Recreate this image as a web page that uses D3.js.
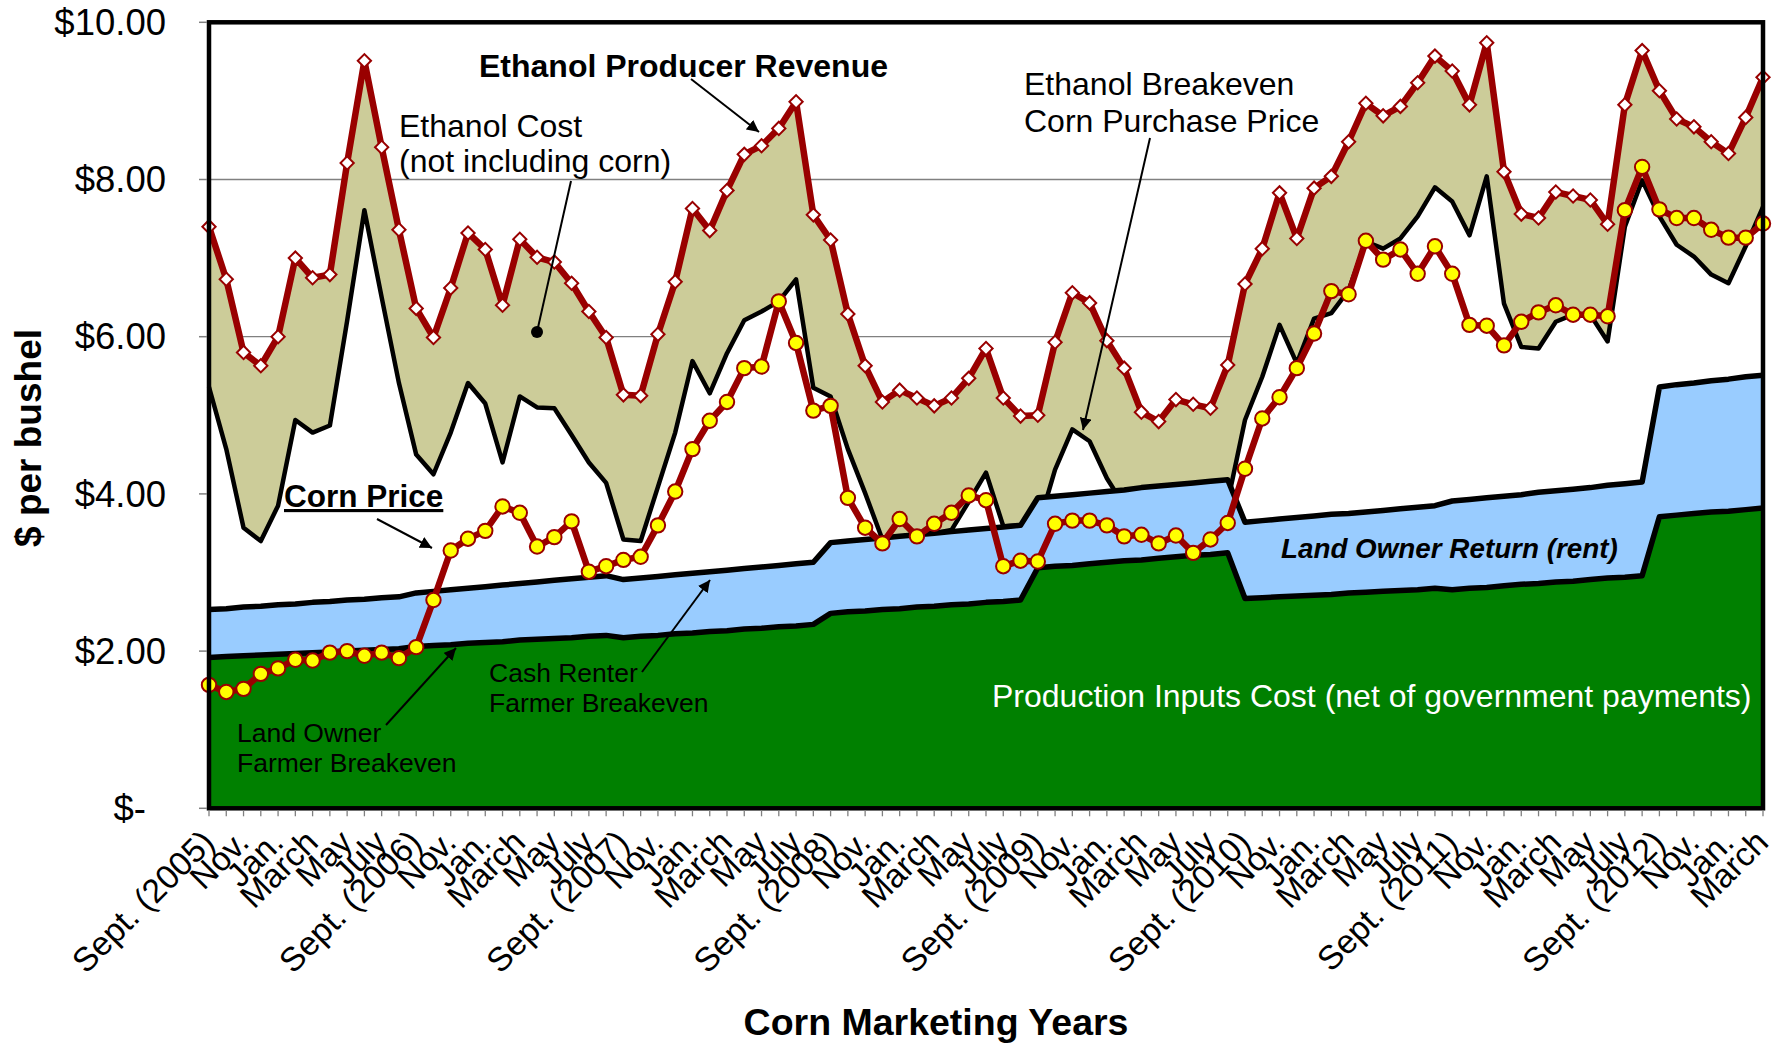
<!DOCTYPE html>
<html><head><meta charset="utf-8">
<script src="https://cdn.jsdelivr.net/npm/d3@7"></script>
<style>
body{margin:0;background:#fff}
svg{display:block}
text{font-family:"Liberation Sans",Arial,Helvetica,sans-serif;fill:#000}
</style>
</head><body>
<svg id="c" width="1781" height="1044"></svg>
<script>
const categories = [
 "Sept. (2005)","Oct.","Nov.","Dec.","Jan.","Feb.","March","April","May","June","July","Aug.",
 "Sept. (2006)","Oct.","Nov.","Dec.","Jan.","Feb.","March","April","May","June","July","Aug.",
 "Sept. (2007)","Oct.","Nov.","Dec.","Jan.","Feb.","March","April","May","June","July","Aug.",
 "Sept. (2008)","Oct.","Nov.","Dec.","Jan.","Feb.","March","April","May","June","July","Aug.",
 "Sept. (2009)","Oct.","Nov.","Dec.","Jan.","Feb.","March","April","May","June","July","Aug.",
 "Sept. (2010)","Oct.","Nov.","Dec.","Jan.","Feb.","March","April","May","June","July","Aug.",
 "Sept. (2011)","Oct.","Nov.","Dec.","Jan.","Feb.","March","April","May","June","July","Aug.",
 "Sept. (2012)","Oct.","Nov.","Dec.","Jan.","Feb.","March"
];
// Ethanol Producer Revenue ($/bu)
const revenue = [
 7.40,6.73,5.80,5.63,6.00,7.00,6.75,6.79,8.21,9.51,
 8.41,7.36,6.36,5.99,6.62,7.32,7.11,6.40,7.24,7.01,
 6.95,6.68,6.32,5.99,5.26,5.25,6.03,6.70,7.63,7.35,
 7.86,8.32,8.43,8.65,8.99,7.55,7.23,6.29,5.63,5.17,
 5.32,5.22,5.12,5.22,5.47,5.85,5.22,4.99,5.00,5.93,
 6.56,6.43,5.95,5.60,5.04,4.92,5.20,5.14,5.09,5.64,
 6.67,7.12,7.83,7.25,7.89,8.04,8.48,8.97,8.81,8.93,
 9.23,9.57,9.38,8.95,9.74,8.10,7.56,7.51,7.84,7.79,
 7.74,7.43,8.95,9.64,9.13,8.77,8.67,8.48,8.33,8.79,
 9.30];
// Ethanol Breakeven Corn Purchase Price
const breakeven = [
 5.36,4.57,3.57,3.40,3.85,4.94,4.78,4.87,6.20,7.61,
 6.50,5.41,4.50,4.25,4.78,5.41,5.15,4.40,5.24,5.10,
 5.09,4.75,4.40,4.14,3.42,3.40,4.09,4.78,5.69,5.28,
 5.79,6.21,6.32,6.45,6.73,5.35,5.24,4.57,4.01,3.42,
 3.45,3.50,3.50,3.54,3.90,4.27,3.59,3.60,3.56,4.31,
 4.82,4.67,4.20,3.85,3.70,3.60,3.75,3.85,3.80,3.90,
 4.94,5.49,6.15,5.66,6.23,6.30,6.59,7.21,7.12,7.25,
 7.53,7.90,7.72,7.29,8.04,6.42,5.87,5.85,6.19,6.28,
 6.28,5.94,7.40,7.99,7.53,7.17,7.02,6.79,6.68,7.15,
 7.65];
// Corn Price
const cornPrice = [
 1.57,1.48,1.52,1.71,1.78,1.89,1.88,1.98,2.00,1.94,
 1.98,1.91,2.05,2.65,3.28,3.43,3.53,3.84,3.76,3.33,
 3.45,3.65,3.01,3.08,3.16,3.20,3.60,4.03,4.57,4.93,
 5.17,5.60,5.62,6.45,5.92,5.06,5.12,3.95,3.57,3.37,
 3.68,3.46,3.62,3.76,3.98,3.92,3.08,3.15,3.14,3.62,
 3.66,3.66,3.60,3.46,3.48,3.37,3.47,3.25,3.42,3.63,
 4.32,4.96,5.23,5.60,6.04,6.58,6.54,7.22,6.98,7.11,
 6.80,7.15,6.80,6.15,6.14,5.89,6.19,6.31,6.40,6.28,
 6.28,6.26,7.61,8.16,7.62,7.51,7.51,7.36,7.26,7.26,
 7.44];
// Cash Renter Farmer Breakeven (top of blue band)
const cashRenter = [
 2.53,2.54,2.56,2.57,2.59,2.60,2.62,2.63,2.65,2.66,2.68,2.69,
 2.74,2.76,2.78,2.80,2.82,2.84,2.86,2.88,2.90,2.92,2.94,2.96,
 2.91,2.93,2.95,2.97,2.99,3.01,3.03,3.05,3.07,3.09,3.11,3.13,
 3.38,3.40,3.42,3.44,3.46,3.48,3.50,3.52,3.54,3.56,3.58,3.60,
 3.95,3.97,3.99,4.01,4.03,4.05,4.08,4.10,4.12,4.14,4.16,4.18,
 3.64,3.66,3.68,3.70,3.72,3.74,3.75,3.77,3.79,3.81,3.83,3.85,
 3.91,3.93,3.95,3.97,3.99,4.02,4.04,4.06,4.08,4.11,4.13,4.15,
 5.36,5.39,5.41,5.44,5.46,5.49,5.51];
// Land Owner Farmer Breakeven (production inputs cost, top of green)
const landOwner = [
 1.92,1.93,1.94,1.95,1.96,1.97,1.98,1.99,2.00,2.01,2.02,2.03,
 2.06,2.07,2.08,2.10,2.11,2.12,2.14,2.15,2.16,2.17,2.19,2.20,
 2.17,2.19,2.20,2.22,2.23,2.25,2.26,2.28,2.29,2.31,2.32,2.34,
 2.48,2.50,2.51,2.53,2.54,2.56,2.57,2.59,2.60,2.62,2.63,2.65,
 3.06,3.08,3.09,3.11,3.13,3.15,3.16,3.18,3.20,3.22,3.23,3.25,
 2.67,2.68,2.69,2.70,2.71,2.72,2.74,2.75,2.76,2.77,2.78,2.80,
 2.78,2.80,2.81,2.83,2.85,2.86,2.88,2.89,2.91,2.93,2.94,2.96,
 3.71,3.73,3.75,3.77,3.78,3.80,3.82];
const yTicks = [0,2,4,6,8,10];
const yTickLabels = ["$-","$2.00","$4.00","$6.00","$8.00","$10.00"];

const svg = d3.select("#c");
const L=209, R=1763, T=22.3, B=808.3;
const idx = d3.range(categories.length);
const x = d3.scalePoint().domain(idx).range([L,R]);
const y = d3.scaleLinear().domain([0,10]).range([B,T]);

const defs = svg.append("defs");
defs.append("marker").attr("id","arr").attr("viewBox","0 0 10 10").attr("refX",10).attr("refY",5)
  .attr("markerWidth",6).attr("markerHeight",6).attr("markerUnits","strokeWidth").attr("orient","auto")
  .append("path").attr("d","M0,0 L10,5 L0,10 z").attr("fill","#000");

// gridlines
svg.append("g").selectAll("line").data(yTicks.filter(t=>t>0&&t<10)).join("line")
  .attr("x1",L).attr("x2",R).attr("y1",d=>y(d)).attr("y2",d=>y(d))
  .attr("stroke","#808080").attr("stroke-width",1.3);

const areaBetween = (lo,hi)=>d3.area().x(i=>x(i)).y0(i=>y(lo(i))).y1(i=>y(hi(i)));
// khaki ethanol cost band (0..revenue, then white up to breakeven)
svg.append("path").attr("d",areaBetween(()=>0,i=>revenue[i])(idx)).attr("fill","#CCCC99");
svg.append("path").attr("d",areaBetween(()=>0,i=>breakeven[i])(idx)).attr("fill","#FFFFFF");
const lineOf = arr=>d3.line().x(i=>x(i)).y(i=>y(arr[i]));
svg.append("path").attr("d",lineOf(breakeven)(idx)).attr("fill","none").attr("stroke","#000").attr("stroke-width",4.5).attr("stroke-linejoin","round");

// blue & green
svg.append("path").attr("d",areaBetween(i=>landOwner[i],i=>cashRenter[i])(idx)).attr("fill","#99CCFF");
svg.append("path").attr("d",areaBetween(()=>0,i=>landOwner[i])(idx)).attr("fill","#008000");
svg.append("path").attr("d",lineOf(cashRenter)(idx)).attr("fill","none").attr("stroke","#000").attr("stroke-width",5.5).attr("stroke-linejoin","round");
svg.append("path").attr("d",lineOf(landOwner)(idx)).attr("fill","none").attr("stroke","#000").attr("stroke-width",5.5).attr("stroke-linejoin","round");

// revenue line with diamonds
svg.append("path").attr("d",lineOf(revenue)(idx)).attr("fill","none").attr("stroke","#990000").attr("stroke-width",6.5).attr("stroke-linejoin","round");
svg.append("g").selectAll("path").data(idx).join("path")
  .attr("d",d3.symbol().type(d3.symbolSquare).size(88)())
  .attr("transform",i=>`translate(${x(i)},${y(revenue[i])}) rotate(45)`)
  .attr("fill","#fff").attr("stroke","#990000").attr("stroke-width",2);

// corn price line with circles
svg.append("path").attr("d",lineOf(cornPrice)(idx)).attr("fill","none").attr("stroke","#990000").attr("stroke-width",6.5).attr("stroke-linejoin","round");
svg.append("g").selectAll("circle").data(idx).join("circle")
  .attr("cx",i=>x(i)).attr("cy",i=>y(cornPrice[i])).attr("r",7.2)
  .attr("fill","#FFFF00").attr("stroke","#990000").attr("stroke-width",2);

// plot border
svg.append("rect").attr("x",L).attr("y",T).attr("width",R-L).attr("height",B-T)
  .attr("fill","none").attr("stroke","#000").attr("stroke-width",4.5);

// y axis ticks & labels
svg.append("g").selectAll("line").data(yTicks).join("line")
  .attr("x1",L-10).attr("x2",L-2).attr("y1",d=>y(d)).attr("y2",d=>y(d))
  .attr("stroke","#808080").attr("stroke-width",1.5);
svg.append("g").selectAll("text").data(yTicks).join("text")
  .attr("x",(d,k)=>k===0?146:166).attr("y",d=>y(d)).attr("dy","0.35em")
  .attr("text-anchor","end").attr("font-size",36.5).text((d,k)=>yTickLabels[k]);

// x axis ticks & labels
svg.append("g").selectAll("line").data(idx).join("line")
  .attr("x1",i=>x(i)).attr("x2",i=>x(i)).attr("y1",B+2).attr("y2",B+8)
  .attr("stroke","#808080").attr("stroke-width",1.3);
svg.append("g").selectAll("text").data(idx.filter(i=>i%2===0)).join("text")
  .attr("transform",i=>`translate(${x(i)-1},836) rotate(-45)`)
  .attr("text-anchor","end").attr("dy","0.35em").attr("font-size",33.5)
  .text(i=>categories[i]);

// axis titles
svg.append("text").attr("transform","translate(41,438) rotate(-90)").attr("text-anchor","middle")
  .attr("font-size",37).attr("font-weight","bold").text("$ per bushel");
svg.append("text").attr("x",936).attr("y",1035).attr("text-anchor","middle")
  .attr("font-size",37.5).attr("font-weight","bold").text("Corn Marketing Years");

// annotations
function txt(xp,yp,s,size,opts={}){
  const t=svg.append("text").attr("x",xp).attr("y",yp).attr("font-size",size).text(s);
  if(opts.bold) t.attr("font-weight","bold");
  if(opts.italic) t.attr("font-style","italic");
  if(opts.fill) t.style("fill",opts.fill);
  if(opts.anchor) t.attr("text-anchor",opts.anchor);
  if(opts.underline) t.attr("text-decoration","underline");
  return t;
}
function arrow(x1,y1,x2,y2,head=true){
  const l=svg.append("line").attr("x1",x1).attr("y1",y1).attr("x2",x2).attr("y2",y2)
    .attr("stroke","#000").attr("stroke-width",2);
  if(head) l.attr("marker-end","url(#arr)");
}
txt(479,77,"Ethanol Producer Revenue",32,{bold:true});
arrow(691,79,759,132);
txt(399,137,"Ethanol Cost",32);
txt(399,172,"(not including corn)",32);
arrow(571,181,537,332,false);
svg.append("circle").attr("cx",537).attr("cy",332).attr("r",6).attr("fill","#000");
txt(1024,95,"Ethanol Breakeven",32);
txt(1024,132,"Corn Purchase Price",32);
arrow(1150,138,1083,430);
txt(284,507,"Corn Price",31.5,{bold:true,underline:true});
arrow(377,519,432,548);
txt(489,682,"Cash Renter",26.5);
txt(489,712,"Farmer Breakeven",26.5);
arrow(642,672,710,580);
txt(237,742,"Land Owner",26.5);
txt(237,772,"Farmer Breakeven",26.5);
arrow(386,725,456,648);
txt(1281,558,"Land Owner Return (rent)",27.8,{bold:true,italic:true});
txt(992,707,"Production Inputs Cost (net of government payments)",32,{fill:"#fff"});
</script>
</body></html>
